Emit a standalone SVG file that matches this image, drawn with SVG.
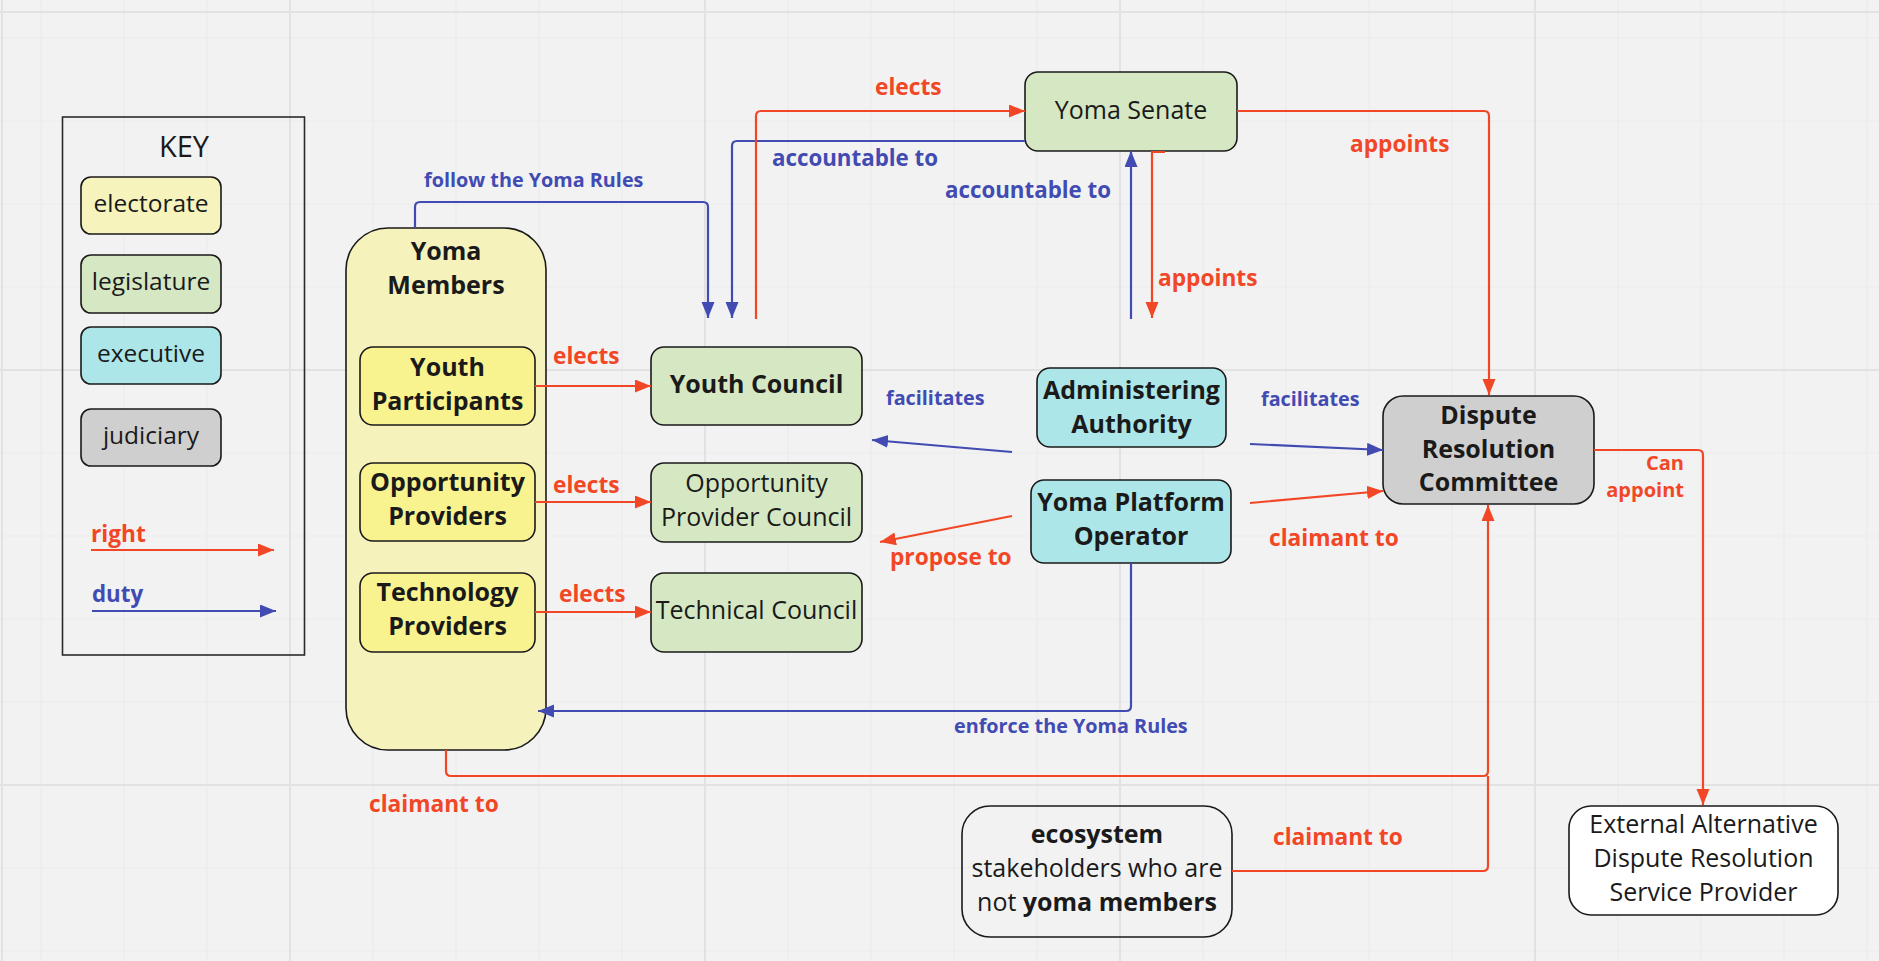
<svg xmlns="http://www.w3.org/2000/svg" width="1879" height="961" viewBox="0 0 1879 961">
<defs>
<marker id="ar" markerUnits="userSpaceOnUse" markerWidth="17" markerHeight="14" refX="16" refY="6.5" orient="auto"><path d="M0,0 L16,6.5 L0,13 z" fill="#f24726"/></marker>
<marker id="ab" markerUnits="userSpaceOnUse" markerWidth="17" markerHeight="14" refX="16" refY="6.5" orient="auto"><path d="M0,0 L16,6.5 L0,13 z" fill="#414bb2"/></marker>
<style>
text{font-family:"Open Sans","Noto Sans","Liberation Sans",sans-serif;fill:#1a1a1a}
.box{stroke:#1a1a1a;stroke-width:1.6}
.yel{fill:#f8f38f}.ybig{fill:#f5f2bc}.grn{fill:#d5e8c3}.cyn{fill:#ade6e8}.gry{fill:#cfcfcf}.wht{fill:#ffffff}.clr{fill:none}
.nb{font-size:25px;font-weight:700;text-anchor:middle}
.nr{font-size:25px;font-weight:400;text-anchor:middle}
.kr{font-size:24.5px;font-weight:400;text-anchor:middle}
.r{stroke:#f24726;stroke-width:2.2;fill:none}
.b{stroke:#414bb2;stroke-width:2.2;fill:none}
.lr{fill:#f24726;font-weight:700;font-size:22.7px}
.lb{fill:#414bb2;font-weight:700;font-size:22.3px}
.ls{fill:#414bb2;font-weight:700;font-size:19.8px}
.lsm{fill:#f24726;font-weight:700;font-size:20px;text-anchor:end}
</style>
</defs>
<rect x="0" y="0" width="1879" height="961" fill="#f2f2f2"/>
<g id="grid" fill="none">
<path stroke="#ebebeb" stroke-width="1.2" d="M41,0V961M124,0V961M207,0V961M373,0V961M456,0V961M539,0V961M622,0V961M788,0V961M871,0V961M954,0V961M1037,0V961M1203,0V961M1286,0V961M1369,0V961M1452,0V961M1618,0V961M1701,0V961M1784,0V961M1867,0V961M0,38H1879M0,121H1879M0,204H1879M0,287H1879M0,453H1879M0,536H1879M0,619H1879M0,702H1879M0,868H1879M0,951H1879"/>
<path stroke="#e2e2e2" stroke-width="2" d="M290,0V961M705,0V961M1120,0V961M1535,0V961M0,370H1879M0,785H1879M0,12H1879M2,0V961"/>
</g>
<g id="key">
<rect x="62.5" y="117" width="242" height="538" fill="none" stroke="#2b2b2b" stroke-width="1.6"/>
<text x="184" y="157" font-size="29" text-anchor="middle">KEY</text>
<rect class="box" x="81" y="177" width="140" height="57" rx="10" style="fill:#f6f3bd"/>
<text class="kr" x="151" y="212">electorate</text>
<rect class="box grn" x="81" y="255" width="140" height="58" rx="10"/>
<text class="kr" x="151" y="290">legislature</text>
<rect class="box cyn" x="81" y="327" width="140" height="57" rx="10"/>
<text class="kr" x="151" y="362">executive</text>
<rect class="box gry" x="81" y="409" width="140" height="57" rx="10"/>
<text class="kr" x="151" y="444">judiciary</text>
<text class="lr" x="91" y="542">right</text>
<path class="r" d="M91,550H274" marker-end="url(#ar)"/>
<text class="lb" x="92" y="602">duty</text>
<path class="b" d="M92,611H276" marker-end="url(#ab)"/>
</g>
<g id="yoma-members">
<rect class="box ybig" x="346" y="228" width="200" height="522" rx="42"/>
<text class="nb" x="446" y="260">Yoma</text>
<text class="nb" x="446" y="294">Members</text>
</g>
<g id="youth-participants">
<rect class="box yel" x="360" y="347" width="175" height="78" rx="13"/>
<text class="nb" x="447.5" y="376">Youth</text>
<text class="nb" x="447.5" y="410">Participants</text>
</g>
<g id="opportunity-providers">
<rect class="box yel" x="360" y="463" width="175" height="78" rx="13"/>
<text class="nb" x="447.5" y="491">Opportunity</text>
<text class="nb" x="447.5" y="525">Providers</text>
</g>
<g id="technology-providers">
<rect class="box yel" x="360" y="573" width="175" height="79" rx="13"/>
<text class="nb" x="447.5" y="601">Technology</text>
<text class="nb" x="447.5" y="635">Providers</text>
</g>
<g id="youth-council">
<rect class="box grn" x="651" y="347" width="211" height="78" rx="13"/>
<text class="nb" x="756.5" y="393">Youth Council</text>
</g>
<g id="opportunity-provider-council">
<rect class="box grn" x="651" y="463" width="211" height="79" rx="13"/>
<text class="nr" x="756.5" y="492">Opportunity</text>
<text class="nr" x="756.5" y="526">Provider Council</text>
</g>
<g id="technical-council">
<rect class="box grn" x="651" y="573" width="211" height="79" rx="13"/>
<text class="nr" x="756.5" y="619">Technical Council</text>
</g>
<g id="yoma-senate">
<rect class="box grn" x="1025" y="72" width="212" height="79" rx="13"/>
<text class="nr" x="1131" y="119">Yoma Senate</text>
</g>
<g id="administering-authority">
<rect class="box cyn" x="1037" y="368" width="189" height="79" rx="13"/>
<text class="nb" x="1131.5" y="399">Administering</text>
<text class="nb" x="1131.5" y="433">Authority</text>
</g>
<g id="yoma-platform-operator">
<rect class="box cyn" x="1031" y="480" width="200" height="83" rx="13"/>
<text class="nb" x="1131" y="511">Yoma Platform</text>
<text class="nb" x="1131" y="545">Operator</text>
</g>
<g id="dispute-resolution-committee">
<rect class="box gry" x="1383" y="396" width="211" height="108" rx="20"/>
<text class="nb" x="1488.5" y="424">Dispute</text>
<text class="nb" x="1488.5" y="458">Resolution</text>
<text class="nb" x="1488.5" y="491">Committee</text>
</g>
<g id="ecosystem-stakeholders">
<rect class="box clr" x="962" y="806" width="270" height="131" rx="28"/>
<text class="nb" x="1097" y="843">ecosystem</text>
<text class="nr" x="1097" y="877">stakeholders who are</text>
<text class="nr" x="1097" y="911">not <tspan font-weight="700">yoma members</tspan></text>
</g>
<g id="external-adr">
<rect class="box wht" x="1569" y="806" width="269" height="109" rx="22"/>
<text class="nr" x="1703.5" y="833">External Alternative</text>
<text class="nr" x="1703.5" y="867">Dispute Resolution</text>
<text class="nr" x="1703.5" y="901">Service Provider</text>
</g>
<g id="connectors">
<path class="b" d="M415,228V207Q415,202 420,202H703Q708,202 708,207V318" marker-end="url(#ab)"/>
<path class="b" d="M1025,141H737Q732,141 732,146V318" marker-end="url(#ab)"/>
<path class="r" d="M756,319V116Q756,111 761,111H1025" marker-end="url(#ar)"/>
<path class="b" d="M1131,319V151" marker-end="url(#ab)"/>
<path class="r" d="M1165,152H1152V318" marker-end="url(#ar)"/>
<path class="r" d="M1237,111H1484Q1489,111 1489,116V395" marker-end="url(#ar)"/>
<path class="r" d="M535,386H651" marker-end="url(#ar)"/>
<path class="r" d="M535,502H651" marker-end="url(#ar)"/>
<path class="r" d="M535,612H651" marker-end="url(#ar)"/>
<path class="b" d="M1012,452L872,440" marker-end="url(#ab)"/>
<path class="r" d="M1012,516L880,542" marker-end="url(#ar)"/>
<path class="b" d="M1250,444L1383,450" marker-end="url(#ab)"/>
<path class="r" d="M1250,503L1383,491" marker-end="url(#ar)"/>
<path class="b" d="M1131,563V706Q1131,711 1126,711H538" marker-end="url(#ab)"/>
<path class="r" d="M446,750V771Q446,776 451,776H1483Q1488,776 1488,771V505" marker-end="url(#ar)"/>
<path class="r" d="M1232,871H1483Q1488,871 1488,866V776"/>
<path class="r" d="M1594,450H1698Q1703,450 1703,455V805" marker-end="url(#ar)"/>
<text class="ls" x="424" y="187">follow the Yoma Rules</text>
<text class="lb" x="772" y="166">accountable to</text>
<text class="lr" x="875" y="95">elects</text>
<text class="lb" x="945" y="198">accountable to</text>
<text class="lr" x="1158" y="286">appoints</text>
<text class="lr" x="1350" y="152">appoints</text>
<text class="lr" x="553" y="364">elects</text>
<text class="lr" x="553" y="493">elects</text>
<text class="lr" x="559" y="602">elects</text>
<text class="ls" x="886" y="405">facilitates</text>
<text class="lr" x="890" y="565">propose to</text>
<text class="ls" x="1261" y="406">facilitates</text>
<text class="lr" x="1269" y="546">claimant to</text>
<text class="ls" x="954" y="733">enforce the Yoma Rules</text>
<text class="lr" x="369" y="812">claimant to</text>
<text class="lr" x="1273" y="845">claimant to</text>
<text class="lsm" x="1684" y="470">Can</text>
<text class="lsm" x="1684" y="497">appoint</text>
</g>
</svg>
